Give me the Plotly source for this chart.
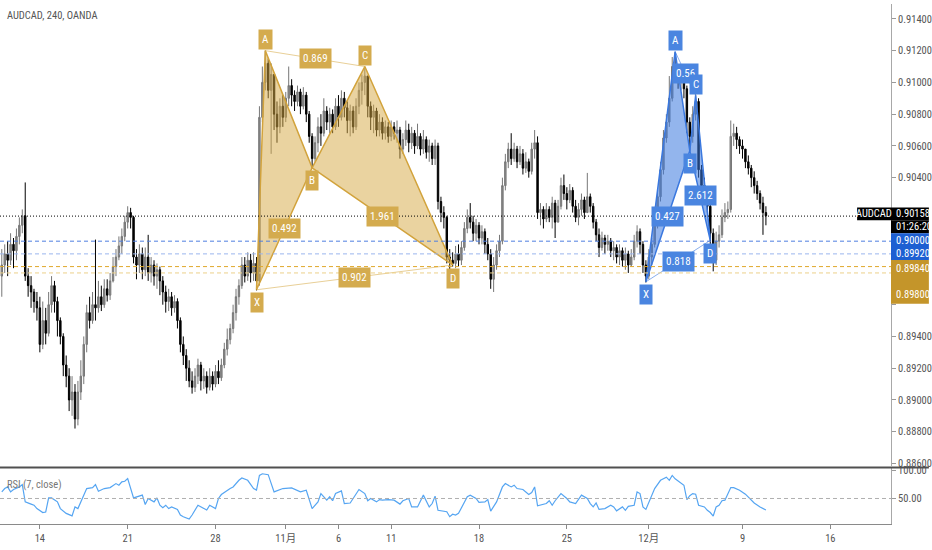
import subprocess
import plotly.graph_objects as go

# ---------------- data (AUDCAD 4h, values in 1e-4 price units) ----------------
close_pips = [
    8985, 8992, 8988, 8998, 8994, 9003, 9010, 9016, 8978, 8972, 8968, 8962, 8958,
    8935, 8950, 8942, 8960, 8972, 8962, 8950, 8940, 8922, 8915, 8900, 8905, 8888, 8905, 8915, 8935,
    8955, 8950, 8960, 8958, 8965, 8960, 8970, 8966, 8975, 8984, 8990, 8997, 9003, 9012, 9018, 9015, 8990,
    8985, 8992, 8982, 8990, 8980, 8985, 8978, 8982, 8975, 8968, 8962, 8965, 8958, 8962, 8950,
    8935, 8928, 8920, 8912, 8908, 8915, 8922, 8912, 8915, 8908, 8915, 8910, 8918, 8914, 8922,
    8932, 8938, 8945, 8955, 8965, 8972, 8985, 8978, 8988, 8980, 8986, 8975,
    9078, 9100, 9112, 9095, 9105, 9080, 9072, 9085, 9078, 9090, 9098, 9092, 9088, 9094, 9085,
    9092, 9080, 9066, 9052, 9062, 9072, 9068, 9082, 9075, 9080, 9072, 9085, 9078, 9090, 9084,
    9076, 9082, 9072, 9085, 9095, 9100, 9104, 9085, 9078, 9082, 9070, 9075, 9068, 9072,
    9066, 9072, 9068, 9070, 9058, 9064, 9070, 9062, 9068, 9060, 9066, 9058, 9064, 9056, 9060,
    9052, 9060, 9025, 9018, 9015, 8990, 8988, 8986, 8992, 8988, 8996, 9008, 9015, 9012, 9005,
    9010, 9002, 9006, 8998, 8992, 8976, 8985, 8994, 9000, 9035, 9050, 9058, 9052, 9058,
    9050, 9055, 9046, 9050, 9044, 9058, 9062, 9018, 9020, 9014, 9020, 9015, 9024, 9012, 9022,
    9035, 9030, 9026, 9032, 9022, 9015, 9020, 9026, 9018, 9028, 9022, 9012, 9004, 8996, 9002,
    8998, 9000, 8994, 8996, 8990, 8994, 8988, 8992, 8985, 8990, 9000, 9006, 8998, 8985, 8978,
    8990, 8998, 9010, 9028, 9045, 9065, 9075, 9090, 9110, 9106, 9100, 9103, 9096, 9075, 9066,
    9080, 9088, 9045, 9035, 9030, 9022, 9005, 8988, 9000, 9004, 9015, 9018, 9020, 9066, 9068,
    9064, 9060, 9058, 9050, 9046, 9040, 9035, 9030, 9024, 9018, 9016,
]
high_pips = [
    8995, 8998, 9000, 9005, 9002, 9008, 9015, 9020, 9037, 8983, 8978, 8970, 8968,
    8965, 8962, 8958, 8968, 8978, 8975, 8965, 8952, 8942, 8928, 8920, 8915, 8910, 8912, 8925,
    8940, 8960, 8965, 8968, 9001, 8975, 8972, 8976, 8976, 8980, 8990, 8995, 9003, 9008, 9016,
    9022, 9021, 9016,
    8995, 8998, 8996, 8996, 9004, 8990, 8988, 8986, 8984, 8978, 8972, 8970, 8968, 8966, 8964,
    8952, 8940, 8932, 8925, 8918, 8920, 8926, 8924, 8920, 8918, 8920, 8918, 8922, 8925, 8926,
    8936, 8945, 8948, 8960, 8970, 8976, 8990, 8990, 8993, 8992, 8993, 8990,
    9085, 9110, 9120, 9115, 9112, 9100, 9088, 9090, 9092, 9094, 9110, 9102, 9095, 9098, 9096,
    9097, 9094, 9082, 9068, 9066, 9078, 9080, 9090, 9085, 9084, 9083, 9090, 9092, 9095, 9094,
    9088, 9086, 9085, 9090, 9100, 9105, 9110, 9102, 9088, 9086, 9084, 9080, 9078, 9076,
    9075, 9076, 9075, 9076, 9072, 9068, 9076, 9074, 9072, 9070, 9074, 9068, 9070, 9066, 9064,
    9062, 9064, 9062, 9028, 9022, 9016, 8995, 8993, 8997, 8998, 9000, 9012, 9020, 9024, 9016,
    9014, 9012, 9010, 9008, 9002, 8995, 8990, 8998, 9004, 9040, 9055, 9062, 9068, 9062,
    9060, 9060, 9058, 9056, 9052, 9062, 9070, 9066, 9024, 9022, 9024, 9022, 9028, 9026, 9026,
    9040, 9042, 9034, 9036, 9034, 9026, 9024, 9030, 9028, 9043, 9030, 9024, 9014, 9008, 9006,
    9004, 9004, 9002, 9000, 8998, 8998, 8996, 8996, 8994, 8995, 9004, 9010, 9008, 9000, 8988,
    8995, 9002, 9014, 9032, 9050, 9070, 9080, 9104, 9116, 9119, 9110, 9108, 9106, 9098, 9078,
    9085, 9094, 9090, 9048, 9040, 9034, 9024, 9008, 9006, 9010, 9020, 9024, 9025, 9076, 9074,
    9072, 9066, 9064, 9058, 9054, 9048, 9044, 9038, 9032, 9028, 9022,
]
low_pips = [
    8965, 8980, 8978, 8985, 8983, 8988, 8998, 9005, 8975, 8965, 8958, 8955, 8950,
    8930, 8932, 8935, 8940, 8955, 8955, 8940, 8935, 8915, 8908, 8893, 8890, 8882, 8884, 8900,
    8910, 8930, 8945, 8948, 8950, 8955, 8956, 8958, 8962, 8963, 8974, 8978, 8988, 8992, 9000,
    9008, 9008, 8986,
    8976, 8980, 8976, 8978, 8975, 8974, 8972, 8970, 8966, 8960, 8955, 8956, 8953, 8955, 8945,
    8930, 8922, 8912, 8908, 8904, 8905, 8910, 8906, 8907, 8904, 8906, 8906, 8908, 8910, 8912,
    8920, 8928, 8935, 8942, 8950, 8960, 8970, 8974, 8975, 8974, 8975, 8969,
    8972, 9075, 9095, 9090, 9055, 9070, 9062, 9068, 9072, 9075, 9085, 9085, 9082, 9085, 9080,
    9083, 9075, 9062, 9046, 9050, 9056, 9060, 9066, 9070, 9068, 9068, 9070, 9072, 9076, 9078,
    9068, 9066, 9068, 9070, 9080, 9086, 9092, 9078, 9070, 9068, 9066, 9066, 9064, 9064,
    9062, 9063, 9064, 9062, 9052, 9055, 9060, 9056, 9058, 9055, 9058, 9054, 9055, 9052, 9050,
    9048, 9048, 9020, 9012, 9008, 8986, 8982, 8984, 8983, 8984, 8985, 8994, 9005, 9008, 9000,
    9000, 8998, 8998, 8992, 8988, 8970, 8968, 8982, 8990, 8998, 9032, 9046, 9048, 9050,
    9046, 9048, 9042, 9043, 9040, 9042, 9052, 9014, 9010, 9008, 9012, 9012, 9008, 9002, 9015,
    9020, 9026, 9020, 9024, 9018, 9012, 9010, 9016, 9014, 9018, 9018, 9008, 9000, 8990, 8994,
    8992, 8994, 8990, 8988, 8986, 8985, 8984, 8982, 8980, 8984, 8988, 8996, 8992, 8980, 8974,
    8976, 8985, 8996, 9008, 9025, 9042, 9062, 9072, 9088, 9100, 9096, 9095, 9090, 9068, 9057,
    9062, 9076, 9040, 9028, 9024, 9018, 8995, 8981, 8985, 8996, 9002, 9012, 9014, 9018, 9060,
    9058, 9055, 9052, 9046, 9042, 9034, 9030, 9026, 9020, 9004, 9010,
]
first_open_pips = 8978

# RSI(7) readings (bar index, value) taken off the indicator pane
rsi_bar = [0, 1, 2, 3, 4, 6, 7, 8, 10, 11, 12, 14, 15, 16, 17, 18, 19, 20, 22, 24, 25, 26, 27,
           29, 31, 32, 33, 35, 37, 39, 40, 41, 42, 43, 45, 46, 48, 49, 50, 52, 53, 54, 55, 56,
           57, 58, 60, 61, 62, 64, 65, 67, 69, 70, 71, 73, 74, 75, 78, 79, 81, 82, 84, 86, 87,
           88, 89, 91, 93, 95, 96, 99, 101, 102, 104, 106, 108, 109, 111, 112, 113, 114, 116,
           117, 119, 121, 122, 124, 125, 126, 128, 129, 130, 132, 134, 136, 137, 139, 140, 142,
           144, 146, 147, 148, 149, 152, 153, 154, 155, 156, 157, 158, 159, 160, 162, 163, 165,
           166, 167, 169, 171, 172, 174, 175, 176, 178, 180, 181, 182, 183, 185, 186, 187, 188,
           189, 191, 193, 194, 196, 198, 200, 201, 202, 203, 204, 206, 208, 209, 210, 212, 213,
           214, 216, 217, 218, 219, 220, 222, 223, 225, 227, 228, 229, 230, 232, 233, 234, 235,
           236, 237, 238, 239, 240, 241, 242, 243, 244, 245, 246, 247, 249, 250, 252, 254, 256,
           257, 259, 261]
rsi_val = [61.8, 67.7, 70.6, 61.8, 66, 70.6, 74.7, 44, 40, 38, 32, 25, 26, 51, 51, 48, 44, 32,
           23.5, 19, 35, 32, 44, 67.7, 69.4, 74.7, 63, 67.7, 69.4, 76.5, 73.6, 79.5, 80.6, 85.3,
           51, 53, 56, 39.4, 50, 44, 51, 38, 33.5, 38, 32, 35, 30.6, 20.6, 17.6, 13.5, 20.6, 38,
           32, 29.4, 38, 32, 50, 57, 67.7, 70.6, 82.4, 86.5, 82.4, 67.7, 65, 91, 94, 92.4, 61.8,
           66.5, 67.7, 68.8, 64.7, 61.8, 64.7, 32, 44, 58.8, 47, 53, 46, 58.8, 63.5, 41, 42,
           58.8, 66, 58.8, 46, 50, 44, 48, 47, 48, 47, 40, 46, 50, 35, 35, 56, 35, 41, 54, 29,
           26.5, 17.6, 22, 20.6, 23.5, 33, 45, 53, 56, 50, 43, 44, 48, 27.6, 44, 70.6, 76.5,
           70.6, 73.6, 67.7, 66, 57, 60.6, 70.6, 37, 40, 41, 46, 38, 46, 58.8, 50, 44, 41, 56,
           50, 41, 35, 42, 30.6, 32, 38, 35, 28, 35, 29, 36, 38, 61.8, 58.8, 35, 30.6, 56, 67.7,
           82.4, 88, 82.4, 91, 85, 76.5, 73.6, 48, 55, 58.8, 57.7, 38, 36, 35, 29, 25, 18.8, 35,
           38, 46, 47, 69.4, 69.4, 64.7, 57.7, 48, 42, 35, 29.4]

tick_idx = [13, 43, 73, 97, 115, 133, 163, 193, 221, 253, 283]
tick_text = ["14", "21", "28", "11月", "6", "11", "18", "25", "12月", "9", "16"]

price_ticks = [0.886, 0.888, 0.890, 0.892, 0.894, 0.896, 0.898, 0.900,
               0.902, 0.904, 0.906, 0.908, 0.910, 0.912, 0.914]
# tick labels hidden behind the right-hand price label boxes
covered_ticks = [0.896, 0.898, 0.900, 0.902]

pt_names = ["X", "A", "B", "C", "D"]
gold_idx = [87, 90, 106, 124, 154]
gold_price = [0.89694, 0.91200, 0.90462, 0.91100, 0.89850]
gold_ratios = ["0.492", "0.869", "1.961", "0.902"]   # XB, AC, BD, XD
blue_idx = [220, 230, 235, 237, 242]
blue_price = [0.89744, 0.91194, 0.90569, 0.90919, 0.90005]
blue_ratios = ["0.427", "0.56", "2.612", "0.818"]

levels_blue = [0.90000, 0.89920]
levels_gold = [0.89840, 0.89800]
last_price = 0.90158
countdown = "01:26:20"
symbol_title = "AUDCAD, 240, OANDA"

# ---------------- font choice (narrow face if present) ----------------
try:
    fams = subprocess.run(["fc-list", ":", "family"], capture_output=True,
                          text=True, timeout=10).stdout
except Exception:
    fams = ""
fam_set = {f.strip() for line in fams.splitlines() for f in line.split(",")}
BASE, FS = "Liberation Sans", 9.5
for cand in ["Roboto Condensed", "Liberation Sans Narrow", "Arial Narrow", "PT Sans Narrow",
             "Archivo Narrow", "Asap Condensed"]:
    if cand in fam_set:
        BASE, FS = cand, 10.5
        break
FONT = BASE + ", Liberation Sans, Noto Sans CJK SC, sans-serif"

# ---------------- derived ----------------
n = min(len(close_pips), len(high_pips), len(low_pips))
xs = list(range(n))
close = [v / 1e4 for v in close_pips[:n]]
opens = [first_open_pips / 1e4] + close[:-1]
high = [max(h / 1e4, o, c) for h, o, c in zip(high_pips[:n], opens, close)]
low = [min(l / 1e4, o, c) for l, o, c in zip(low_pips[:n], opens, close)]

# ---------------- geometry ----------------
W, H = 932, 550
ML, MR, MT, MB = 0, 38, 0, 26
PW = W - ML - MR      # 894
PH = H - MT - MB      # 524


def pyp(py):  # pixel row -> paper y
    return (PH - py) / PH


def pxp(px):  # pixel col -> paper x
    return px / PW


fig = go.Figure()

fig.add_trace(go.Candlestick(
    x=xs, open=opens, high=high, low=low, close=close,
    increasing=dict(line=dict(color="#777777", width=1), fillcolor="#8a8a8a"),
    decreasing=dict(line=dict(color="#000000", width=1), fillcolor="#000000"),
    whiskerwidth=0, hoverinfo="none", showlegend=False, xaxis="x", yaxis="y",
))


def add_pattern(idx, price, line_col, fill_col, thin_col, ratios, box_col):
    X, A, B, C, D = [(idx[k], price[k]) for k in range(5)]
    for tri in ([X, A, B, X], [B, C, D, B]):
        fig.add_trace(go.Scatter(
            x=[p[0] for p in tri], y=[p[1] for p in tri], mode="lines",
            fill="toself", fillcolor=fill_col, line=dict(color=line_col, width=1.5),
            hoverinfo="skip", showlegend=False, xaxis="x", yaxis="y"))
    for seg in ([A, C], [X, D]):
        fig.add_trace(go.Scatter(
            x=[p[0] for p in seg], y=[p[1] for p in seg], mode="lines",
            line=dict(color=thin_col, width=1), hoverinfo="skip",
            showlegend=False, xaxis="x", yaxis="y"))
    pairs = [(X, B), (A, C), (B, D), (X, D)]
    for (p, q), txt in zip(pairs, ratios):
        fig.add_annotation(x=(p[0] + q[0]) / 2, y=(p[1] + q[1]) / 2, xref="x", yref="y",
                           text=txt, showarrow=False, bgcolor=box_col, borderpad=3,
                           font=dict(color="white", size=FS + 0.5, family=FONT))
    shifts = [-13, 11, -13, 11, -13]
    for k, name in enumerate(pt_names):
        fig.add_annotation(x=idx[k], y=price[k], xref="x", yref="y", text=name,
                           showarrow=False, bgcolor=box_col, borderpad=3,
                           yshift=shifts[k], font=dict(color="white", size=FS + 0.5, family=FONT))


add_pattern(gold_idx, gold_price, "#d2a33c", "rgba(214,168,66,0.5)",
            "rgba(214,168,66,0.55)", gold_ratios, "#d4ab4e")
add_pattern(blue_idx, blue_price, "#3a78df", "rgba(58,120,223,0.55)",
            "rgba(58,120,223,0.6)", blue_ratios, "#4a85e0")

fig.add_trace(go.Scatter(
    x=rsi_bar, y=rsi_val, mode="lines", line=dict(color="#55a5f2", width=1.2),
    hoverinfo="skip", showlegend=False, xaxis="x2", yaxis="y2"))

shapes = []
for lv, col in zip(levels_blue, ["#4f7fe0", "#9ab6ee"]):
    shapes.append(dict(type="line", xref="paper", x0=0, x1=1, yref="y", y0=lv, y1=lv,
                       line=dict(color=col, width=1, dash="4px,3px")))
for lv, col in zip(levels_gold, ["#e0a92c", "#ecd089"]):
    shapes.append(dict(type="line", xref="paper", x0=0, x1=1, yref="y", y0=lv, y1=lv,
                       line=dict(color=col, width=1, dash="4px,3px")))
shapes.append(dict(type="line", xref="paper", x0=0, x1=pxp(860), yref="y",
                   y0=last_price, y1=last_price, line=dict(color="#000", width=1, dash="1px,2px")))
shapes.append(dict(type="line", xref="paper", x0=0, x1=1, yref="y2", y0=50, y1=50,
                   line=dict(color="#b0b0b0", width=1, dash="4px,3px")))
shapes.append(dict(type="line", xref="paper", x0=0, x1=W / PW, yref="paper",
                   y0=pyp(467), y1=pyp(467), line=dict(color="#505050", width=2)))
boxes = [
    (860, 894, 205, 218, "#000000"),
    (894, 932, 205, 218, "#000000"),
    (894, 932, 218, 231, "#000000"),
    (894, 932, 231, 258, "#1d5fd2"),
    (894, 932, 258, 302, "#c4952a"),
]
for x0, x1, y0, y1, col in boxes:
    shapes.append(dict(type="rect", xref="paper", yref="paper", x0=pxp(x0), x1=pxp(x1),
                       y0=pyp(y1), y1=pyp(y0), fillcolor=col, line=dict(width=0), layer="above"))

labels = [
    (877, 211.5, "AUDCAD", "center"),
    (897, 211.5, f"{last_price:.5f}", "left"),
    (897, 224.5, countdown, "left"),
    (897, 238, f"{levels_blue[0]:.5f}", "left"),
    (897, 251, f"{levels_blue[1]:.5f}", "left"),
    (897, 267, f"{levels_gold[0]:.5f}", "left"),
    (897, 293, f"{levels_gold[1]:.5f}", "left"),
]
for px, py, txt, anc in labels:
    fig.add_annotation(xref="paper", yref="paper", x=pxp(px), y=pyp(py), text=txt,
                       showarrow=False, xanchor=anc, yanchor="middle",
                       font=dict(color="white", size=FS, family=FONT))

fig.add_annotation(xref="paper", yref="paper", x=pxp(5), y=pyp(12), text=symbol_title,
                   showarrow=False, xanchor="left", yanchor="middle",
                   font=dict(color="#555555", size=FS, family=FONT))
fig.add_annotation(xref="paper", yref="paper", x=pxp(5), y=pyp(484), text="RSI (7, close)",
                   showarrow=False, xanchor="left", yanchor="middle",
                   font=dict(color="#777777", size=FS, family=FONT))

xr = [-0.613, (PW - 1.8) / 2.9375]
ax_font = dict(color="#555555", size=FS, family=FONT)
price_ticktext = ["" if any(abs(v - c) < 1e-9 for c in covered_ticks) else f"{v:.5f}"
                  for v in price_ticks]

fig.update_layout(
    width=W, height=H, margin=dict(l=ML, r=MR, t=MT, b=MB),
    paper_bgcolor="white", plot_bgcolor="white", hovermode=False,
    showlegend=False, shapes=shapes, boxgap=0.3,
    xaxis=dict(domain=[0, 1], anchor="y", range=xr, showticklabels=False, showgrid=False,
               zeroline=False, showline=False, ticks="", rangeslider=dict(visible=False),
               fixedrange=True),
    yaxis=dict(domain=[pyp(466), 1], anchor="x", side="right", range=[0.885813, 0.914938],
               tickvals=price_ticks, ticktext=price_ticktext,
               ticks="outside", ticklen=4, tickcolor="#9a9a9a", showline=True,
               linecolor="#a8a8a8", linewidth=1, showgrid=False, zeroline=False,
               tickfont=ax_font),
    xaxis2=dict(domain=[0, 1], anchor="y2", range=xr, tickvals=tick_idx, ticktext=tick_text,
                ticks="outside", ticklen=4, tickcolor="#8a8a8a", showline=True,
                linecolor="#8a8a8a", linewidth=1, showgrid=False, zeroline=False,
                tickfont=ax_font),
    yaxis2=dict(domain=[0, pyp(468)], anchor="x2", side="right", range=[4.6, 103.5],
                tickvals=[50, 100], ticktext=["50.00", "100.00"], ticks="outside",
                ticklen=4, tickcolor="#9a9a9a", showline=True, linecolor="#a8a8a8",
                linewidth=1, showgrid=False, zeroline=False, tickfont=ax_font),
)

fig.write_html("out.html", config={"displayModeBar": False},
               post_script="document.body.style.margin='0';")
